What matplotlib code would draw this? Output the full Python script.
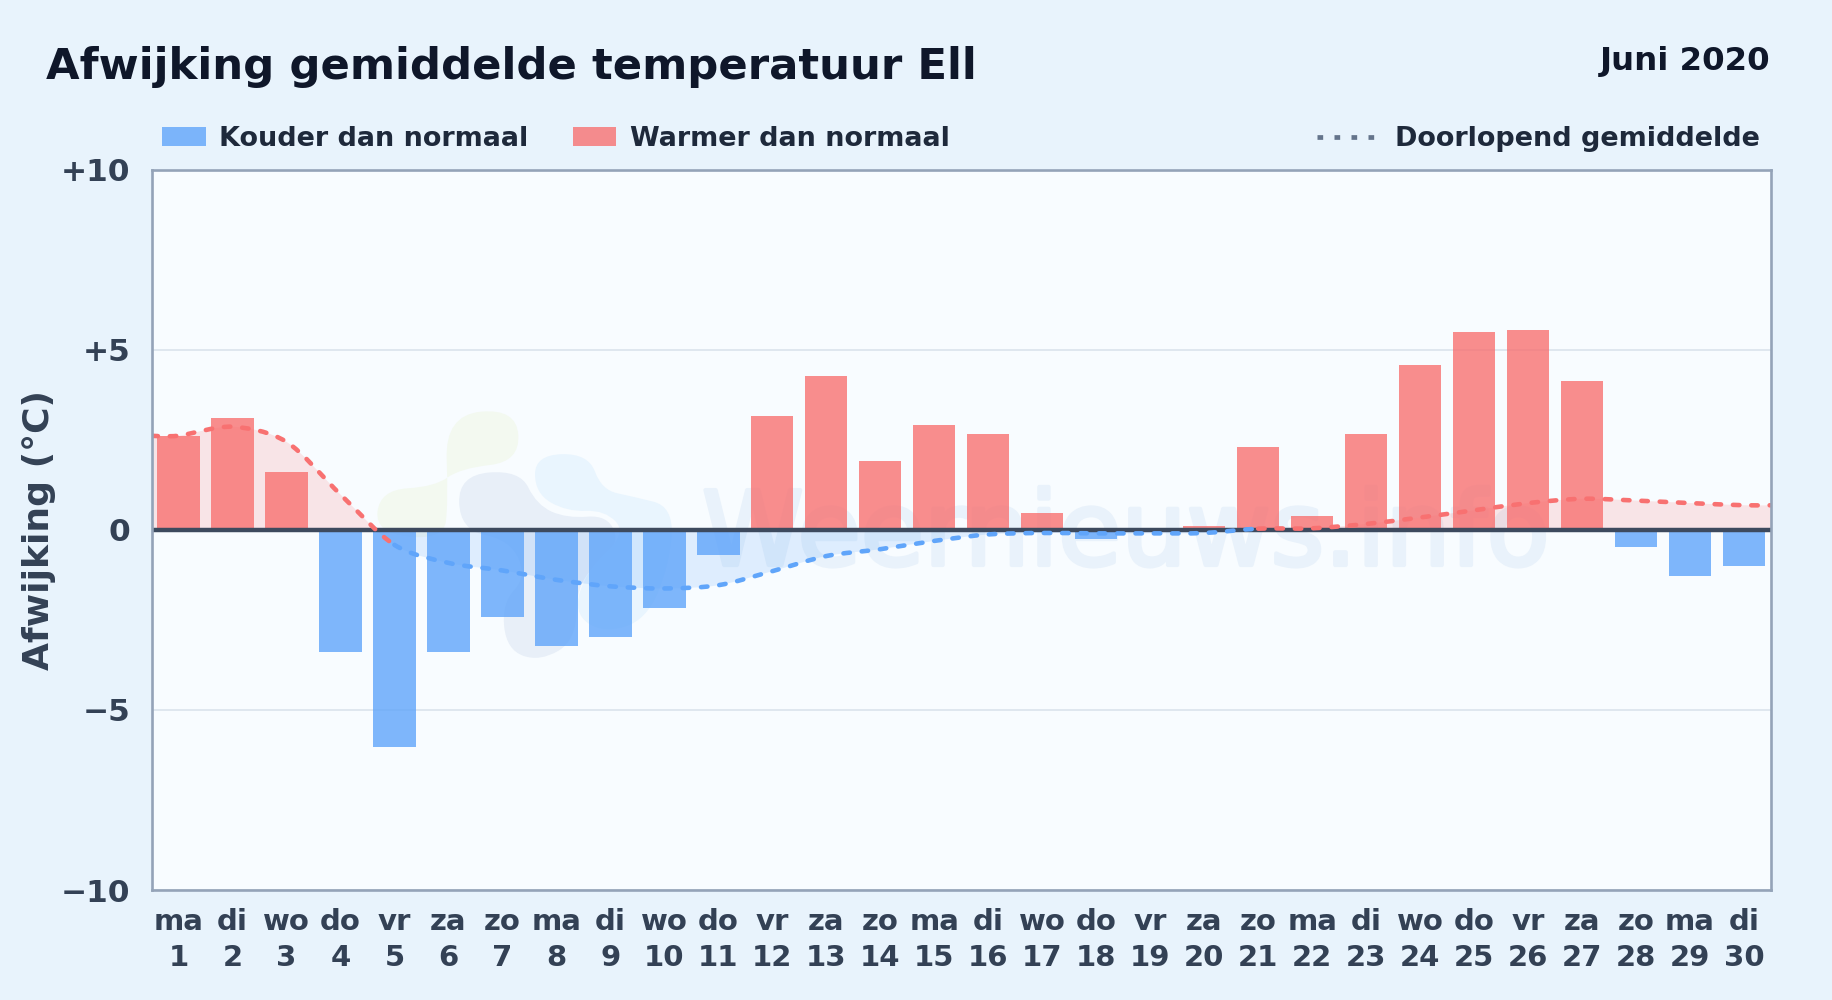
"""Afwijking gemiddelde temperatuur Ell, juni 2020: daily bars plus running mean."""
import matplotlib
matplotlib.use("Agg")
import matplotlib.pyplot as plt
import matplotlib.patheffects as pe
from matplotlib.patches import PathPatch, Rectangle
from matplotlib.path import Path
from matplotlib.transforms import Affine2D
import numpy as np

W, H = 1832, 1000

days = list(range(1, 31))
weekdays = ["ma", "di", "wo", "do", "vr", "za", "zo"] * 4 + ["ma", "di"]
deviation = [2.61, 3.11, 1.61, -3.39, -6.04, -3.39, -2.42, -3.22, -2.97, -2.17,
             -0.69, 3.17, 4.28, 1.91, 2.92, 2.66, 0.46, -0.26, 0.0, 0.10,
             2.30, 0.38, 2.66, 4.57, 5.48, 5.54, 4.12, -0.47, -1.28, -1.00]
running = [2.61, 2.86, 2.44, 0.98, -0.42, -0.92, -1.13, -1.39, -1.57, -1.63,
           -1.54, -1.15, -0.73, -0.54, -0.31, -0.13, -0.09, -0.10, -0.10, -0.09,
           0.03, 0.04, 0.16, 0.34, 0.54, 0.74, 0.86, 0.81, 0.74, 0.68]
y_ticks = [10, 5, 0, -5, -10]
y_labels = ["+10", "+5", "0", "\u22125", "\u221210"]

RED = "#f87171"
BLUE = "#60a5fa"
BG = "#e8f3fc"
PLOT_BG = "#f8fcff"
INK = "#0f172a"
INK2 = "#1e293b"
TICK = "#334155"
EDGE = "#94a3b8"

# reference pixels, y measured from the top
px = Affine2D().scale(1, -1).translate(0, H)


def smooth_path(xs, ys, t=0.15):
    """Bezier segments through the points, handles along the neighbour chord."""
    p = np.column_stack([xs, ys]).astype(float)
    verts = [tuple(p[0])]
    for i in range(len(p) - 1):
        a = p[i] + t * (p[i + 1] - p[i - 1]) if i > 0 else p[i]
        b = p[i + 1] - t * (p[i + 2] - p[i]) if i < len(p) - 2 else p[i + 1]
        verts += [tuple(a), tuple(b), tuple(p[i + 1])]
    return verts


def blob(points, color):
    """Closed quadratic spline round the control points (watermark logo)."""
    pts = [(360 + x / 3, 390 + y / 3) for x, y in points]
    start = ((pts[-1][0] + pts[0][0]) / 2, (pts[-1][1] + pts[0][1]) / 2)
    verts, codes = [start], [Path.MOVETO]
    for a, b in zip(pts, pts[1:] + pts[:1]):
        verts += [a, ((a[0] + b[0]) / 2, (a[1] + b[1]) / 2)]
        codes += [Path.CURVE3, Path.CURVE3]
    ax.add_patch(PathPatch(Path(verts, codes), fc=color, ec="none", zorder=0.5,
                           transform=px))


fig = plt.figure(figsize=(W / 100, H / 100), dpi=100, facecolor=BG)
plt.rcParams["font.family"] = "DejaVu Sans"
ax = fig.add_axes([151.5 / W, 1 - 890 / H, (1771 - 151.5) / W, (890 - 169.5) / H])
ax.set_facecolor(PLOT_BG)
ax.set_xlim(0.5, 30.5)
ax.set_ylim(-10, 10)

# watermark logo and name
blob([(255, 75), (470, 55), (480, 215), (300, 235), (225, 290), (60, 300), (45, 430),
      (250, 450), (265, 340)], "#f3f9f0")
blob([(295, 255), (480, 240), (530, 345), (620, 385), (745, 375), (780, 470), (650, 570),
      (650, 750), (540, 815), (440, 780), (425, 640), (500, 560), (450, 450), (300, 420)],
     "#e8eff8")
blob([(525, 195), (685, 190), (725, 300), (820, 320), (940, 350), (930, 520), (860, 690),
      (730, 730), (640, 670), (680, 540), (800, 430), (735, 360), (620, 365), (525, 310)],
     "#e9f5fe")
ax.text(702, 565, "Weernieuws.info", transform=px, fontsize=74, color="#e9f2fb",
        ha="left", va="baseline", zorder=0.6,
        path_effects=[pe.withStroke(linewidth=3, foreground="#e9f2fb")])

ax.set_axisbelow(True)
ax.grid(axis="y", color="#dde5ee", lw=1.3)
ax.grid(axis="x", visible=False)

bar_colors = [RED if v >= 0 else BLUE for v in deviation]
ax.bar(days, deviation, width=0.785, color=bar_colors, alpha=0.8, zorder=2)

# running mean: flat out to the plot edges, red above zero and blue below
line_x = [0.5] + days + [30.5]
line_y = [running[0]] + running + [running[-1]]
verts = smooth_path(line_x, line_y)
fill_verts = [(0.5, 0)] + verts + [(30.5, 0), (0.5, 0)]
fill_codes = [Path.MOVETO, Path.LINETO] + [Path.CURVE4] * (len(verts) - 1) + [Path.LINETO, Path.CLOSEPOLY]
fill_path = Path(fill_verts, fill_codes)
for color, alpha, y0, y1 in [(RED, 0.17, 0, 10), (BLUE, 0.17, -10, 0)]:
    patch = PathPatch(fill_path, fc=color, ec="none", alpha=alpha, zorder=1.5)
    ax.add_patch(patch)
    patch.set_clip_path(Rectangle((0.5, y0), 30, y1 - y0, transform=ax.transData))

ax.axhline(0, color="#3d4a5e", lw=3.2, zorder=3)


def running_segment(first, last, color):
    i0 = line_x.index(first)
    i1 = line_x.index(last)
    seg = verts[3 * i0:3 * i1 + 1]
    codes = [Path.MOVETO] + [Path.CURVE4] * (len(seg) - 1)
    ax.add_patch(PathPatch(Path(seg, codes), fc="none", ec=color, lw=3.3, capstyle="round",
                           linestyle=(0, (1.4, 2.6)), zorder=4))


running_segment(0.5, 5, RED)
running_segment(5, 21, BLUE)
running_segment(21, 30.5, RED)

for side in ax.spines.values():
    side.set_color(EDGE)
    side.set_linewidth(1.9)
    side.set_zorder(5)

ax.set_yticks(y_ticks, y_labels, fontsize=22.5, fontweight="bold", color=TICK)
ax.set_xticks(days, [f"{w}\n{d}" for w, d in zip(weekdays, days)], fontsize=21,
              fontweight="bold", color=TICK, linespacing=1.36)
ax.tick_params(axis="y", length=0, pad=15)
ax.tick_params(axis="x", length=0, pad=13)

ax.text(39, 530, "Afwijking (\u00b0C)", transform=px, rotation=90, fontsize=26,
        fontweight="bold", color=TICK, ha="center", va="center", clip_on=False)

# title block, placed by hand like the reference
fig.text(46, 79, "Afwijking gemiddelde temperatuur Ell", transform=px, fontsize=31.25,
         fontweight="bold", color=INK, ha="left", va="baseline")
fig.text(1770, 70, "Juni 2020", transform=px, fontsize=23.3, fontweight="bold",
         color=INK, ha="right", va="baseline")

# legend
for x0, x1, color, label, tx in [(162, 206, BLUE, "Kouder dan normaal", 219),
                                 (573, 616, RED, "Warmer dan normaal", 630)]:
    fig.add_artist(Rectangle((x0, 127), x1 - x0, 19, fc=color, ec="none", alpha=0.8,
                             transform=px))
    fig.text(tx, 146, label, transform=px, fontsize=19.45, fontweight="bold", color=INK2,
             ha="left", va="baseline")
fig.add_artist(plt.Line2D([1317, 1374], [137, 137], color="#64748b", lw=3.4,
                          linestyle=(0, (1.2, 2.4)), transform=px))
fig.text(1395, 146, "Doorlopend gemiddelde", transform=px, fontsize=19.45, fontweight="bold",
         color=INK2, ha="left", va="baseline")

fig.savefig("out.png", dpi=100, facecolor=BG)
